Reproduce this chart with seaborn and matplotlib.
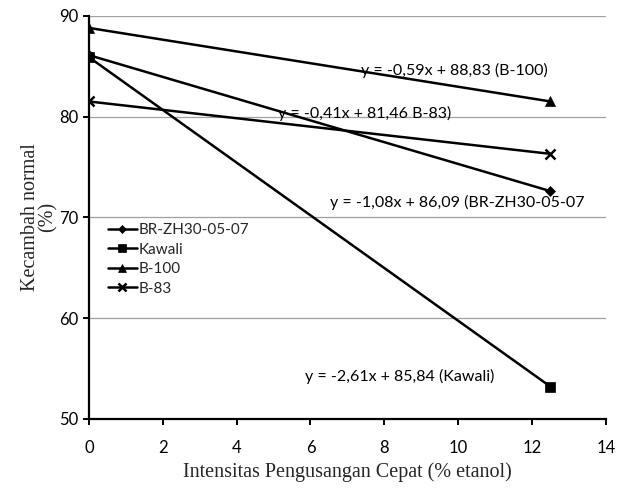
import matplotlib
matplotlib.use("Agg")
import matplotlib.pyplot as plt
import seaborn as sns
import pandas as pd

x_vals = [0, 12.5]
varieties = ["BR-ZH30-05-07", "Kawali", "B-100", "B-83"]
br_zh = [86.1, 72.6]
kawali = [85.9, 53.2]
b100 = [88.8, 81.5]
b83 = [81.5, 76.3]
equations = ["y = -1,08x + 86,09 (BR-ZH30-05-07", "y = -2,61x + 85,84 (Kawali)",
             "y = -0,59x + 88,83 (B-100)", "y = -0,41x + 81,46 B-83)"]

rows = []
for name, vals in zip(varieties, [br_zh, kawali, b100, b83]):
    for xv, yv in zip(x_vals, vals):
        rows.append({"x": xv, "y": yv, "Varietas": name})
df = pd.DataFrame(rows)

sns.set_style("white")
plt.rcParams['font.family'] = ['Lato', 'DejaVu Sans']

fig = plt.figure(figsize=(6.17, 4.94), dpi=100)
ax = fig.add_axes([0.144, 0.152, 0.838, 0.816])

markers = {"BR-ZH30-05-07": "D", "Kawali": "s", "B-100": "^", "B-83": "X"}
sns.lineplot(data=df, x="x", y="y", hue="Varietas", style="Varietas",
             markers=markers, dashes=False, palette=["black"] * 4,
             linewidth=1.8, markersize=6, ax=ax, legend=True)

final_marker = {"BR-ZH30-05-07": ("D", 5), "Kawali": ("s", 6.5), "B-100": ("^", 6.5), "B-83": ("x", 6.5)}

def style_line(ln, name, scale=1.0):
    m, s = final_marker[name]
    ln.set_marker(m)
    ln.set_markersize(s * scale)
    ln.set_markeredgecolor("black")
    ln.set_markerfacecolor("black")
    ln.set_markeredgewidth(1.8 if m == "x" else 0.5)

data_lines = [ln for ln in ax.lines if len(ln.get_xdata()) > 0]
for ln, name in zip(data_lines, varieties):
    style_line(ln, name)

ax.set_xlim(0, 14)
ax.set_ylim(50, 90)
ax.set_xticks(range(0, 15, 2))
ax.set_yticks(range(50, 91, 10))
ax.yaxis.grid(True, color="#a0a0a0", linewidth=0.9)
ax.xaxis.grid(False)
for s in ["top", "right"]:
    ax.spines[s].set_visible(False)
for s in ["left", "bottom"]:
    ax.spines[s].set_color("black")
    ax.spines[s].set_linewidth(1.6)
ax.tick_params(axis="both", direction="out", length=4, width=1.4, colors="black",
               labelsize=12, bottom=True, left=True)
ax.tick_params(axis="x", pad=11)

ax.set_xlabel("Intensitas Pengusangan Cepat (% etanol)", family="Liberation Serif",
              fontsize=14.5, labelpad=5)
ax.set_ylabel("Kecambah normal\n(%)", family="Liberation Serif", fontsize=14.5,
              labelpad=1, linespacing=0.9)

ann_pos = [(9.97, 71.5), (8.42, 54.2), (9.9, 84.6), (7.47, 80.3)]
for txt, (ax_x, ax_y) in zip(equations, ann_pos):
    ax.text(ax_x, ax_y, txt, ha="center", va="center", fontsize=11.5, color="black")

leg = ax.legend(loc="upper left", bbox_to_anchor=(0.025, 0.50), frameon=False,
                fontsize=11, handlelength=1.9, handletextpad=0.1, labelspacing=0.35,
                borderaxespad=0)
for h, name in zip(leg.legend_handles, varieties):
    style_line(h, name, 0.8)

fig.savefig("out.png", dpi=100)
